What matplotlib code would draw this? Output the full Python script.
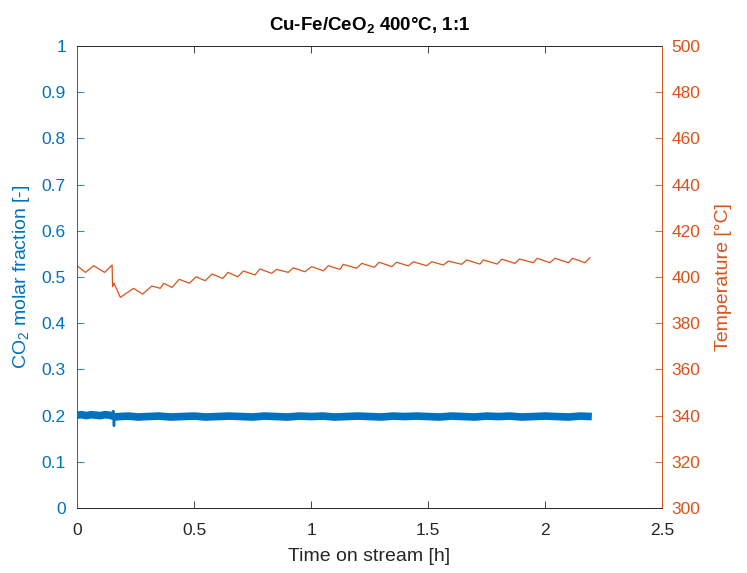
import numpy as np
import matplotlib
matplotlib.use('Agg')
import matplotlib.pyplot as plt

# ===== data =====
# CO2 molar fraction (left axis)
co2_time = [0.00, 0.02, 0.04, 0.06, 0.08, 0.10, 0.12, 0.14, 0.150, 0.155, 0.158, 0.160, 0.165,
            0.18, 0.22, 0.26, 0.30, 0.35, 0.40, 0.45, 0.50, 0.55, 0.60, 0.65, 0.70, 0.75,
            0.80, 0.85, 0.90, 0.95, 1.00, 1.05, 1.10, 1.15, 1.20, 1.25, 1.30, 1.35, 1.40,
            1.45, 1.50, 1.55, 1.60, 1.65, 1.70, 1.75, 1.80, 1.85, 1.90, 1.95, 2.00, 2.05,
            2.10, 2.15, 2.20]
co2_frac = [0.201, 0.202, 0.200, 0.202, 0.201, 0.200, 0.202, 0.201, 0.200, 0.210, 0.178, 0.199, 0.197,
            0.198, 0.199, 0.197, 0.198, 0.199, 0.197, 0.198, 0.199, 0.197, 0.198, 0.199, 0.198, 0.197,
            0.199, 0.198, 0.197, 0.199, 0.198, 0.199, 0.197, 0.198, 0.199, 0.198, 0.197, 0.199, 0.198,
            0.199, 0.198, 0.197, 0.199, 0.198, 0.197, 0.199, 0.198, 0.199, 0.197, 0.198, 0.199, 0.198,
            0.197, 0.199, 0.198]
spike = slice(8, 12)   # short disturbance around 0.155 h

# Temperature (right axis), peaks and troughs
temp_time = [0.000, 0.036, 0.071, 0.118, 0.150, 0.152, 0.158, 0.185, 0.242, 0.280, 0.320,
             0.356, 0.370, 0.406, 0.437, 0.480, 0.509, 0.548, 0.577, 0.623, 0.645, 0.687,
             0.711, 0.761, 0.782, 0.832, 0.853, 0.903, 0.924, 0.974, 1.003, 1.053, 1.074,
             1.124, 1.138, 1.195, 1.217, 1.271, 1.291, 1.345, 1.366, 1.416, 1.437, 1.494,
             1.516, 1.566, 1.587, 1.644, 1.665, 1.722, 1.736, 1.796, 1.815, 1.872, 1.890,
             1.950, 1.967, 2.021, 2.043, 2.100, 2.118, 2.171, 2.192]
temp_c = [404.9, 402.0, 404.9, 402.0, 405.2, 395.8, 397.3, 391.2, 395.1, 392.6, 396.1,
          395.1, 397.3, 395.5, 399.0, 397.3, 400.1, 398.4, 401.3, 399.4, 402.0, 400.1,
          402.6, 400.9, 403.5, 401.6, 403.3, 402.0, 404.0, 402.3, 404.5, 402.7, 404.9,
          403.3, 405.5, 403.8, 405.9, 404.2, 406.4, 404.5, 406.4, 404.8, 406.6, 404.9,
          406.6, 405.2, 406.9, 405.5, 407.4, 405.6, 407.4, 405.6, 407.7, 405.9, 407.8,
          406.2, 408.1, 406.2, 408.1, 406.2, 408.1, 406.2, 408.4]

# ===== style =====
plt.rcParams['font.family'] = ['Liberation Sans', 'DejaVu Sans']
plt.rcParams['mathtext.fontset'] = 'custom'
plt.rcParams['mathtext.rm'] = 'Liberation Sans'
plt.rcParams['mathtext.bf'] = 'Liberation Sans:bold'

blue = '#0072BD'
orange = '#D95319'
grey = '#262626'

fig = plt.figure(figsize=(7.47, 5.73), dpi=100)
ax = fig.add_axes([0.1031, 0.1134, 0.7831, 0.8063])
ax2 = ax.twinx()

# thick noisy band without the spike, then the spike as a thin trace
band_t = co2_time[:spike.start] + co2_time[spike.stop:]
band_v = co2_frac[:spike.start] + co2_frac[spike.stop:]
ax.plot(band_t, band_v, color=blue, lw=5.5, solid_capstyle='butt')
ax.plot(co2_time[spike.start - 1:spike.stop + 1], co2_frac[spike.start - 1:spike.stop + 1],
        color=blue, lw=1.8)
ax2.plot(temp_time, temp_c, color=orange, lw=0.9)

ax.set_xlim(0, 2.5)
ax.set_ylim(0, 1)
ax2.set_ylim(300, 500)
ax.set_xticks(np.arange(0, 2.51, 0.5))
ax.set_xticklabels(['0', '0.5', '1', '1.5', '2', '2.5'])
ax.set_yticks(np.arange(0, 1.01, 0.1))
ax.set_yticklabels(['0', '0.1', '0.2', '0.3', '0.4', '0.5', '0.6', '0.7', '0.8', '0.9', '1'])
ax2.set_yticks(np.arange(300, 501, 20))

ax.tick_params(axis='x', direction='in', top=True, length=5, width=0.6,
               colors=grey, labelsize=12.5, pad=11)
ax.tick_params(axis='y', direction='in', length=5, width=0.6,
               colors=blue, labelsize=12.5, pad=8)
ax2.tick_params(axis='y', direction='in', length=5, width=0.6,
                colors=orange, labelsize=12.5, pad=7)

for a in (ax, ax2):
    a.spines['top'].set_color(grey)
    a.spines['bottom'].set_color(grey)
    a.spines['left'].set_color(blue)
    a.spines['right'].set_color(orange)
    for s in a.spines.values():
        s.set_linewidth(0.6)

ax.set_xlabel('Time on stream [h]', fontsize=14, color=grey, labelpad=7)
ax.set_ylabel('CO$_2$ molar fraction [-]', fontsize=14, color=blue, labelpad=7)
ax2.set_ylabel('Temperature [°C]', fontsize=14, color=orange, rotation=90, labelpad=10)
ax.set_title(r'Cu-Fe/CeO$_\mathbf{2}$ 400°C, 1:1', fontsize=13.5, fontweight='bold', pad=11)

fig.savefig('out.png', dpi=100)
